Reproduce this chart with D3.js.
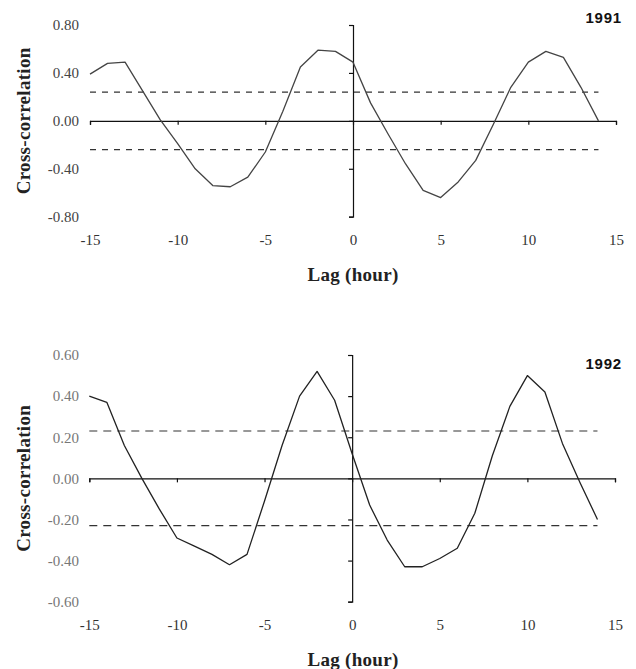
<!DOCTYPE html>
<html>
<head>
<meta charset="utf-8">
<script src="https://cdn.jsdelivr.net/npm/d3@7"></script>
<style>
  body { margin: 0; background: #fff; }
  svg { display: block; }
</style>
</head>
<body>
<svg id="chart" width="636" height="669"></svg>
<script>
// lags in hours
var lags = [-15, -14, -13, -12, -11, -10, -9, -8, -7, -6, -5, -4, -3, -2, -1,
            0, 1, 2, 3, 4, 5, 6, 7, 8, 9, 10, 11, 12, 13, 14];

var corr1991 = [0.39, 0.48, 0.49, 0.25, 0.01, -0.19, -0.40, -0.54, -0.55, -0.47, -0.26,
                0.08, 0.45, 0.59, 0.58, 0.49, 0.15, -0.11, -0.36, -0.58, -0.64, -0.51,
                -0.33, -0.03, 0.28, 0.49, 0.58, 0.53, 0.28, 0.00];

var corr1992 = [0.40, 0.37, 0.16, 0.00, -0.15, -0.29, -0.33, -0.37, -0.42, -0.37, -0.11,
                0.16, 0.40, 0.52, 0.38, 0.12, -0.13, -0.30, -0.43, -0.43, -0.39, -0.34,
                -0.17, 0.11, 0.35, 0.50, 0.42, 0.17, -0.02, -0.20];

var limit1991 = 0.24;
var limit1992 = 0.23;

var xTicks = [-15, -10, -5, 0, 5, 10, 15];
var yTicks1991 = [-0.8, -0.4, 0, 0.4, 0.8];
var yTicks1992 = [-0.6, -0.4, -0.2, 0, 0.2, 0.4, 0.6];

var svg = d3.select("#chart");

function BuildPanel(opt) {
  var x = d3.scaleLinear().domain([-15, 15]).range([opt.left, opt.right]);
  var y = d3.scaleLinear().domain(opt.yDomain).range([opt.bottom, opt.top]);

  var g = svg.append("g");

  // confidence limits (dashed)
  [opt.limit, -opt.limit].forEach(function(v) {
    g.append("line")
     .attr("x1", x(-15)).attr("x2", x(14))
     .attr("y1", y(v)).attr("y2", y(v))
     .attr("stroke", "#333")
     .attr("stroke-width", 1.1)
     .attr("stroke-dasharray", opt.dash);
  });

  // x axis through zero, ticks only
  var xa = g.append("g")
   .attr("transform", "translate(0," + y(0) + ")")
   .call(d3.axisBottom(x).tickValues(xTicks).tickSize(4).tickSizeOuter(4).tickFormat(""));

  // y axis through lag 0, ticks only
  var ya = g.append("g")
   .attr("transform", "translate(" + x(0) + ",0)")
   .call(d3.axisLeft(y).tickValues(opt.yTicks).tickSize(4).tickSizeOuter(4).tickFormat(""));

  [xa, ya].forEach(function(a) {
    a.selectAll("path, line").attr("stroke", "#111").attr("stroke-width", 1.2);
  });

  // y tick labels at the far left
  var yl = g.append("g")
   .attr("transform", "translate(" + opt.yLabelX + ",0)")
   .call(d3.axisLeft(y).tickValues(opt.yTicks).tickSize(0).tickPadding(0)
     .tickFormat(d3.format(".2f")));
  yl.select(".domain").remove();
  yl.selectAll("text")
    .attr("font-family", "'Liberation Serif', serif")
    .attr("font-size", "15px")
    .attr("fill", opt.labelColor)
    .text(function(d) { return d3.format(".2f")(d).replace("−", "-"); });

  // x tick labels below
  var xl = g.append("g")
   .attr("transform", "translate(0," + opt.xLabelY + ")")
   .call(d3.axisBottom(x).tickValues(xTicks).tickSize(0).tickPadding(0)
     .tickFormat(function(d) { return String(d); }));
  xl.select(".domain").remove();
  xl.selectAll("text")
    .attr("font-family", "'Liberation Serif', serif")
    .attr("font-size", "15px")
    .attr("fill", "#333");

  // data line
  var line = d3.line()
    .x(function(d, i) { return x(lags[i]); })
    .y(function(d) { return y(d); });

  g.append("path")
   .datum(opt.values)
   .attr("d", line)
   .attr("fill", "none")
   .attr("stroke", opt.lineColor)
   .attr("stroke-width", 1.3)
   .attr("stroke-linejoin", "round");

  // titles
  g.append("text")
   .attr("transform", "translate(" + 30 + "," + ((opt.top + opt.bottom) / 2) + ") rotate(-90)")
   .attr("text-anchor", "middle")
   .attr("font-family", "'Liberation Serif', serif")
   .attr("font-weight", "bold")
   .attr("font-size", "19px")
   .attr("letter-spacing", "0.3px")
   .attr("fill", "#222")
   .text("Cross-correlation");

  g.append("text")
   .attr("x", 353)
   .attr("y", opt.titleY)
   .attr("text-anchor", "middle")
   .attr("font-family", "'Liberation Serif', serif")
   .attr("font-weight", "bold")
   .attr("font-size", "19px")
   .attr("letter-spacing", "0.3px")
   .attr("fill", "#222")
   .text("Lag (hour)");

  g.append("text")
   .attr("x", 622)
   .attr("y", opt.yearY)
   .attr("text-anchor", "end")
   .attr("font-family", "'Liberation Sans', Arial, sans-serif")
   .attr("font-weight", "bold")
   .attr("font-size", "15px")
   .attr("letter-spacing", "0.8px")
   .attr("fill", "#111")
   .text(opt.year);
}

BuildPanel({
  values: corr1991, limit: limit1991, yTicks: yTicks1991, yDomain: [-0.8, 0.8],
  left: 90, right: 616, top: 25, bottom: 216.7,
  yLabelX: 79, xLabelY: 234, titleY: 281, yearY: 23, year: "1991",
  dash: "6,6", lineColor: "#444", labelColor: "#444"
});

BuildPanel({
  values: corr1992, limit: limit1992, yTicks: yTicks1992, yDomain: [-0.6, 0.6],
  left: 89.3, right: 615, top: 355, bottom: 601.7,
  yLabelX: 79, xLabelY: 619, titleY: 666, yearY: 369, year: "1992",
  dash: "8,6", lineColor: "#222", labelColor: "#777"
});
</script>
</body>
</html>
